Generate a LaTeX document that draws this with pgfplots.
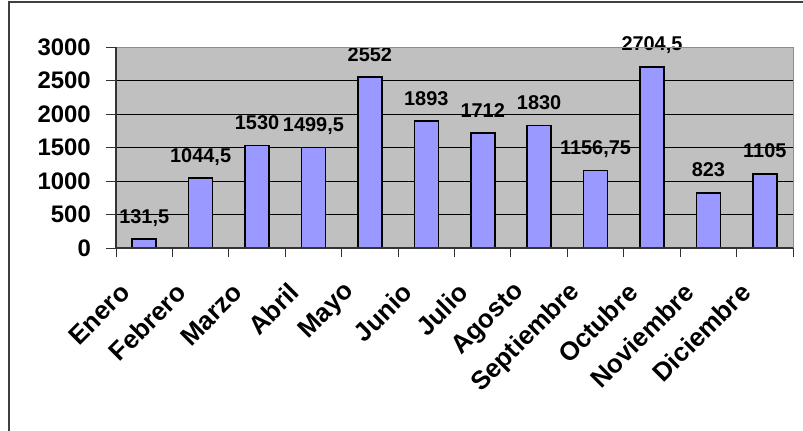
\documentclass[border=0pt]{standalone}
\usepackage{fontspec}
\setmainfont{Liberation Sans}
\usepackage{pgfplots}
\usepackage{pgfplotstable}
\pgfplotsset{compat=1.18}
\definecolor{plotgray}{HTML}{C0C0C0}
\definecolor{barblue}{HTML}{9999FF}

% monthly totals: position, value, printed label
\pgfplotstableread{
x     y        lbl
0.5   131.5    131,5
1.5   1044.5   1044,5
2.5   1530     1530
3.5   1499.5   1499,5
4.5   2552     2552
5.5   1893     1893
6.5   1712     1712
7.5   1830     1830
8.5   1156.75  1156,75
9.5   2704.5   2704,5
10.5  823      823
11.5  1105     1105
}\datatable

\begin{document}
\begin{tikzpicture}[x=1bp,y=1bp]
\useasboundingbox (0,0) rectangle (803,430);
% chart frame (left and top edges)
\draw[line width=1.5bp, color=black!75] (9,-5) -- (9,428) -- (810,428);
\begin{axis}[
  at={(116bp,182bp)}, anchor=south west,
  width=677bp, height=201bp, scale only axis,
  xmin=0, xmax=12, ymin=0, ymax=3000,
  axis background/.style={fill=plotgray},
  axis line style={draw=none},
  tick pos=left,
  ytick={0,500,...,3000},
  ymajorgrids, major grid style={black, line width=0.8bp},
  xtick={0.5,1.5,...,11.5},
  xticklabels={Enero,Febrero,Marzo,Abril,Mayo,Junio,Julio,Agosto,Septiembre,Octubre,Noviembre,Diciembre},
  x tick style={draw=none},
  minor xtick={0,1,...,12},
  minor x tick style={draw=black!80, line width=1bp},
  y tick style={draw=black!80, line width=1bp},
  tick align=outside,
  major tick length=10bp, minor tick length=9bp,
  /pgf/number format/assume math mode=true,
  /pgf/number format/1000 sep={},
  yticklabel style={font=\bfseries\fontsize{24}{26}\selectfont, inner sep=0pt, xshift=-15bp},
  xticklabel style={font=\bfseries\fontsize{26}{28}\selectfont, inner sep=0pt, xshift=-19bp, yshift=-30bp, rotate=45, anchor=east},
  after end axis/.code={
    \draw[color=black!45, line width=1bp] (rel axis cs:0,1) -- (rel axis cs:1,1) -- (rel axis cs:1,0);
    \draw[color=black!80, line width=1.2bp] (rel axis cs:0,1) -- (rel axis cs:0,0) -- (rel axis cs:1,0);
  },
  clip=false,
]
\addplot[ybar, bar width=24bp, bar shift=0pt, fill=barblue, draw=black, line width=1.6bp,
  nodes near coords, point meta=explicit symbolic,
  every node near coord/.append style={font=\bfseries\fontsize{20}{22}\selectfont, inner sep=0pt, anchor=base, yshift=16bp, text=black}]
  table[x=x, y=y, meta=lbl] {\datatable};
\end{axis}
\end{tikzpicture}
\end{document}
